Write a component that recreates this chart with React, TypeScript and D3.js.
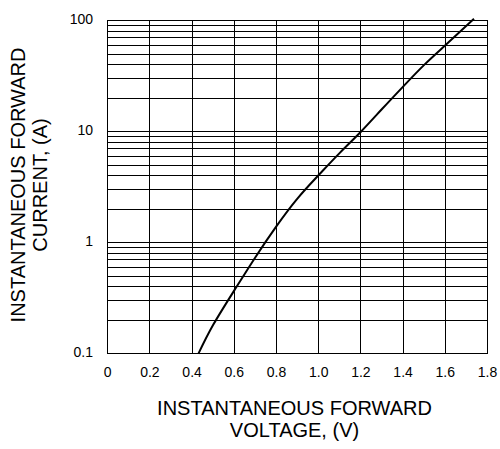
import React from "react";
import * as d3 from "d3";

const voltage = [0.43, 0.5, 0.6, 0.7, 0.8, 0.9, 1.0, 1.1, 1.2, 1.3, 1.4, 1.5, 1.6, 1.736];
const current = [0.1, 0.182, 0.372, 0.74, 1.41, 2.51, 4.07, 6.45, 10, 16, 25.5, 40, 60, 104];

const xTicks = [0, 0.2, 0.4, 0.6, 0.8, 1.0, 1.2, 1.4, 1.6, 1.8];
const xTickLabels = ["0", "0.2", "0.4", "0.6", "0.8", "1.0", "1.2", "1.4", "1.6", "1.8"];
const yDecades = [0.1, 1, 10, 100];
const yTickLabels = ["0.1", "1", "10", "100"];
const yMinorMultipliers = [2, 3, 4, 5, 6, 7, 8, 9];

const xTitle = ["INSTANTANEOUS FORWARD", "VOLTAGE, (V)"];
const yTitle = ["INSTANTANEOUS FORWARD", "CURRENT, (A)"];

const W = 500;
const H = 449;
const left = 107.7;
const right = 487.5;
const top = 20.7;
const bottom = 353.7;

export default function App() {
  const x = d3.scaleLinear().domain([0, 1.8]).range([left, right]);
  const y = d3.scaleLog().domain([0.1, 100]).range([bottom, top]);

  const hLines: number[] = [];
  yDecades.forEach((d) => {
    hLines.push(d);
    if (d < 100) yMinorMultipliers.forEach((m) => hLines.push(d * m));
  });

  const pts: [number, number][] = voltage.map((v, i) => [v, current[i]]);
  const line = d3
    .line<[number, number]>()
    .x((d) => x(d[0]))
    .y((d) => y(d[1]))
    .curve(d3.curveNatural);

  const font = "'Liberation Sans', Arial, Helvetica, sans-serif";
  const cx = 294.5;
  const cy = 185;

  return (
    <div style={{ position: "absolute", left: 0, top: 0 }}>
      <svg width={W} height={H} style={{ display: "block", background: "#fff" }}>
        <rect x={0} y={0} width={W} height={H} fill="#fff" />
        <g stroke="#000" strokeWidth={1} shapeRendering="crispEdges">
          {hLines.map((v, i) => (
            <line key={"h" + i} x1={left} x2={right} y1={y(v)} y2={y(v)} />
          ))}
          {xTicks.map((v, i) => (
            <line key={"v" + i} x1={x(v)} x2={x(v)} y1={top} y2={bottom} />
          ))}
          <rect x={left} y={top} width={right - left} height={bottom - top} fill="none" />
        </g>
        <path d={line(pts) || ""} fill="none" stroke="#000" strokeWidth={2} />
        <g fontFamily={font} fontSize={14} fill="#000">
          {xTicks.map((v, i) => (
            <text key={"xt" + i} x={x(v)} y={376.5} textAnchor="middle">
              {xTickLabels[i]}
            </text>
          ))}
          {yDecades.map((v, i) => (
            <text key={"yt" + i} x={93} y={y(v) + 3} textAnchor="end">
              {yTickLabels[i]}
            </text>
          ))}
        </g>
        <g fontFamily={font} fontSize={20} fill="#000" textAnchor="middle">
          <text x={cx} y={415}>{xTitle[0]}</text>
          <text x={cx} y={437}>{xTitle[1]}</text>
          <text transform={`translate(25,${cy}) rotate(-90)`}>{yTitle[0]}</text>
          <text transform={`translate(47,${cy}) rotate(-90)`}>{yTitle[1]}</text>
        </g>
      </svg>
    </div>
  );
}
